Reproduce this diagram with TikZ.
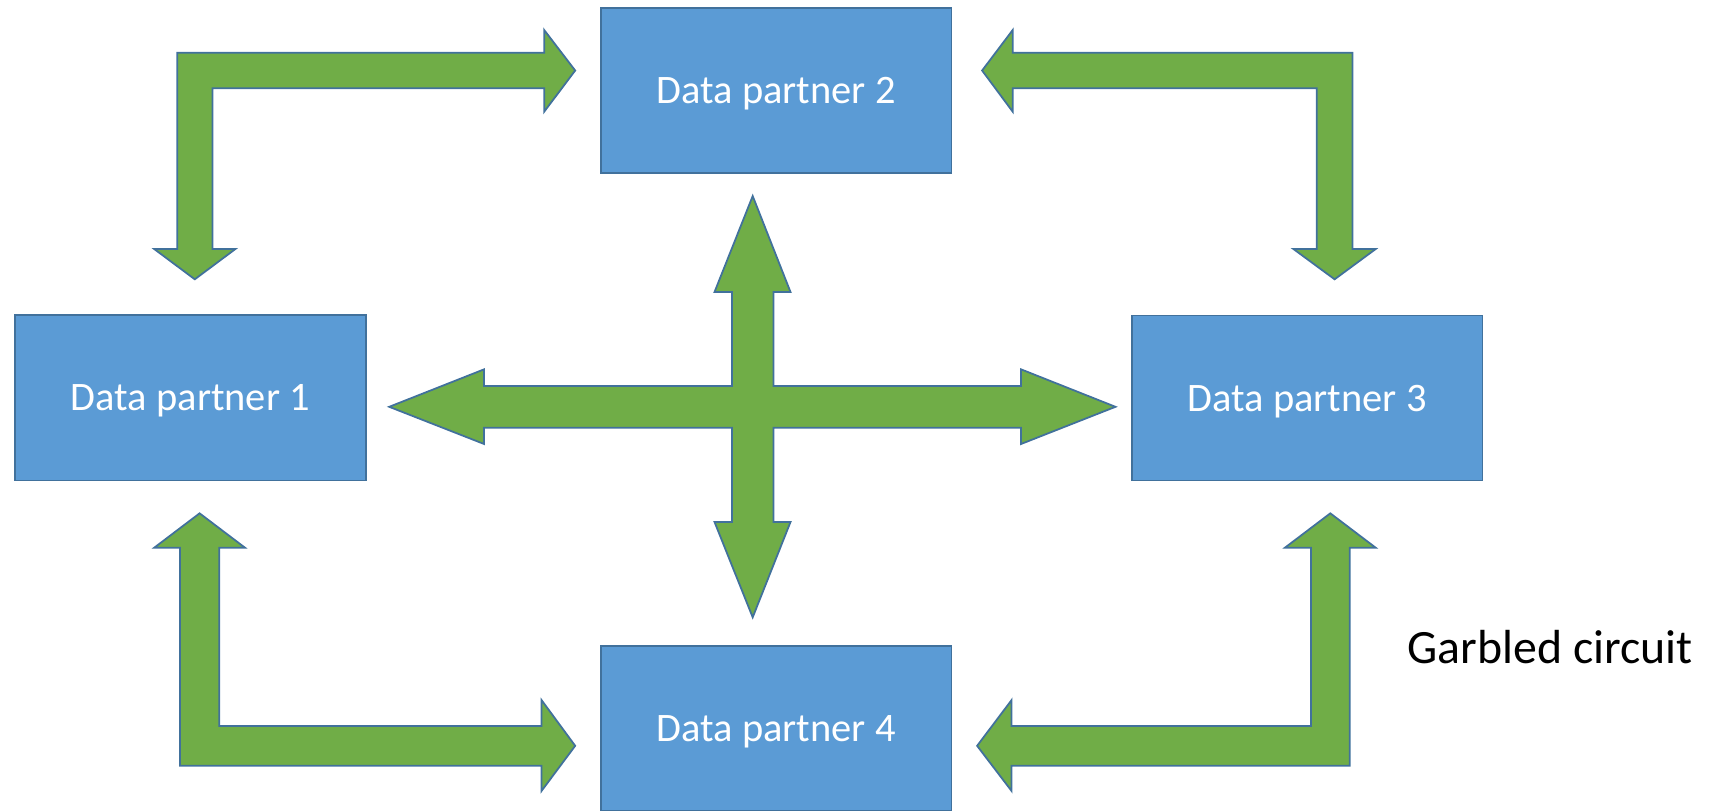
\documentclass[tikz,border=0pt]{standalone}
\usepackage{fontspec}
\setmainfont{Carlito}
\definecolor{boxblue}{HTML}{5B9BD5}
\definecolor{edgeblue}{HTML}{41719C}
\definecolor{arrowgreen}{HTML}{70AD47}
\begin{document}
\begin{tikzpicture}[x=0.01cm,y=-0.01cm,
  partner/.style={rectangle,draw=edgeblue,line width=0.5pt,fill=boxblue,
    text=white,inner sep=0pt,outer sep=0pt,
    minimum width=3.505cm,minimum height=1.65cm,
    font=\fontsize{11.5}{14}\selectfont,text height=7.4pt,text depth=0pt},
  blockarrow/.style={draw=edgeblue,line width=0.5pt,fill=arrowgreen,line join=miter},
  caption/.style={text=black,inner sep=0pt,font=\fontsize{13.6}{16}\selectfont}]
\useasboundingbox (0,0) rectangle (1709,811);

% boxes
\node[partner] (p1) at (190.4,397.9) {Data partner 1};
\node[partner] (p2) at (776.2,90.5) {Data partner 2};
\node[partner] (p3) at (1307.2,398) {Data partner 3};
\node[partner,minimum height=1.648cm] (p4) at (776.2,728.1) {Data partner 4};

% top-left bent arrow (p2 <-> p1)
\draw[blockarrow] (177.2,52.7) -- (544.2,52.7) -- (544.2,30) -- (575.2,70.5)
  -- (544.2,111.7) -- (544.2,88.3) -- (212.4,88.3) -- (212.4,249) -- (235.4,249)
  -- (194.8,279.3) -- (154.2,249) -- (177.2,249) -- cycle;

% top-right bent arrow (p2 <-> p3)
\draw[blockarrow] (1352.4,52.7) -- (1352.4,249) -- (1375.7,249) -- (1334.6,279.3)
  -- (1293.4,249) -- (1316.7,249) -- (1316.7,88.3) -- (1012.7,88.3) -- (1012.7,111.7)
  -- (982.1,70.5) -- (1012.7,30) -- (1012.7,52.7) -- cycle;

% bottom-left bent arrow (p1 <-> p4)
\draw[blockarrow] (179.9,765.7) -- (179.9,547.7) -- (154.2,547.7) -- (199.6,513.3)
  -- (245,547.7) -- (219.3,547.7) -- (219.3,726) -- (541.5,726) -- (541.5,700)
  -- (575.2,745.8) -- (541.5,791) -- (541.5,765.7) -- cycle;

% bottom-right bent arrow (p3 <-> p4)
\draw[blockarrow] (1349.7,765.7) -- (1349.7,547.7) -- (1375.7,547.7) -- (1330.3,513.3)
  -- (1284.9,547.7) -- (1310.9,547.7) -- (1310.9,726) -- (1011.6,726) -- (1011.6,700)
  -- (977.1,745.8) -- (1011.6,791) -- (1011.6,765.7) -- cycle;

% central four-way arrow
\draw[blockarrow] (732,386) -- (732,292) -- (714.5,292) -- (752.7,196) -- (790.5,292)
  -- (773.4,292) -- (773.4,386) -- (1021,386) -- (1021,369.3) -- (1115.5,406.8)
  -- (1021,444) -- (1021,427.7) -- (773.4,427.7) -- (773.4,522) -- (790.5,522)
  -- (752.7,617.3) -- (714.5,522) -- (732,522) -- (732,427.7) -- (484.1,427.7)
  -- (484.1,444) -- (389.2,406.8) -- (484.1,369.3) -- (484.1,386) -- cycle;

% caption
\node[caption,anchor=base west] (gc) at (1407,663.3) {Garbled circuit};
\end{tikzpicture}
\end{document}
